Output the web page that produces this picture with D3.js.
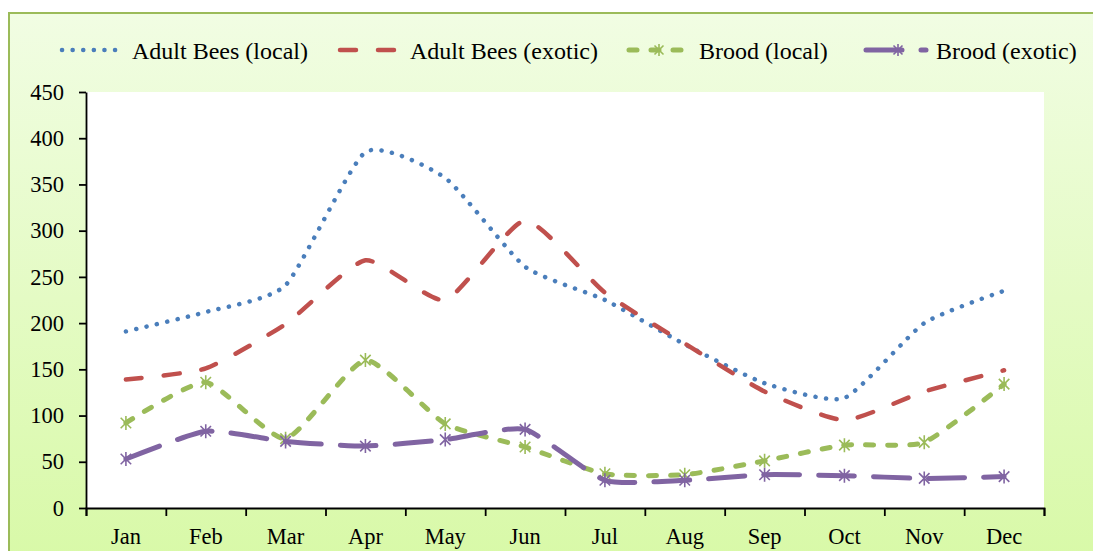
<!DOCTYPE html>
<html>
<head>
<meta charset="utf-8">
<script src="https://cdn.jsdelivr.net/npm/d3@7"></script>
<style>
  body { margin: 0; background: #fff; }
</style>
</head>
<body>
<div id="chart"></div>
<script>
// Month categories and series values
const months = ["Jan", "Feb", "Mar", "Apr", "May", "Jun", "Jul", "Aug", "Sep", "Oct", "Nov", "Dec"];
const adultLocal  = [191, 212, 241, 385, 357, 261, 225, 177, 135, 119, 200, 235];
const adultExotic = [139, 151, 199, 268, 225, 311, 233, 178, 126, 95, 126, 149];
const broodLocal  = [92, 136, 75, 160, 91, 66, 37, 36, 51, 68, 71, 134];
const broodExotic = [53, 83, 72, 67, 74, 85, 30, 30, 36, 35, 32, 34];
const yTicks = [0, 50, 100, 150, 200, 250, 300, 350, 400, 450];
const seriesNames = ["Adult Bees (local)", "Adult Bees (exotic)", "Brood (local)", "Brood (exotic)"];

const W = 1093, H = 551;
const plot = {left: 86, right: 1044, top: 92, bottom: 508};
const FONT = "'Liberation Serif', 'Times New Roman', serif";

const svg = d3.select("#chart").append("svg")
    .attr("width", W)
    .attr("height", H);

// background gradient for the chart area
const defs = svg.append("defs");
const grad = defs.append("linearGradient")
    .attr("id", "bg")
    .attr("x1", 0).attr("y1", 0).attr("x2", 0).attr("y2", 1);
grad.append("stop").attr("offset", "0%").attr("stop-color", "#f1fde3");
grad.append("stop").attr("offset", "100%").attr("stop-color", "#d7f9a5");

svg.append("rect")
    .attr("x", 9).attr("y", 13)
    .attr("width", W + 20).attr("height", H + 20)
    .attr("fill", "url(#bg)")
    .attr("stroke", "#9bbb59")
    .attr("stroke-width", 2);

// white plot area
svg.append("rect")
    .attr("x", plot.left).attr("y", plot.top)
    .attr("width", plot.right - plot.left)
    .attr("height", plot.bottom - plot.top)
    .attr("fill", "#fff");

// scales
const x = d3.scaleBand()
    .domain(months)
    .range([plot.left, plot.right]);

const y = d3.scaleLinear()
    .domain([0, 450])
    .range([plot.bottom, plot.top]);

// y axis
svg.append("g")
    .attr("transform", `translate(${plot.left},0)`)
    .call(d3.axisLeft(y).tickValues(yTicks).tickSize(7).tickPadding(15).tickSizeOuter(0));

// x axis: ticks at band boundaries, labels at band centres
const xEdges = d3.scaleLinear().domain([0, months.length]).range([plot.left, plot.right]);
svg.append("g")
    .attr("transform", `translate(0,${plot.bottom})`)
    .call(d3.axisBottom(xEdges).ticks(months.length).tickFormat("").tickSize(8).tickSizeOuter(8));

svg.append("g")
    .attr("transform", `translate(0,${plot.bottom})`)
    .call(d3.axisBottom(x).tickSize(0).tickPadding(20))
    .call(g => g.select(".domain").remove());

svg.selectAll(".tick text")
    .style("font-family", FONT)
    .style("font-size", "22.5px")
    .attr("fill", "#000");
svg.selectAll(".domain, .tick line")
    .attr("stroke", "#000")
    .attr("stroke-width", 1.8);

// series styles
const styles = [
  {values: adultLocal,  color: "#4a7ebb", width: 4.5, dash: "0.1 10.5", marker: false},
  {values: adultExotic, color: "#c0504d", width: 4.5, dash: "16 22",    marker: false},
  {values: broodLocal,  color: "#9bbb59", width: 5,   dash: "8 14",     marker: true},
  {values: broodExotic, color: "#8064a2", width: 5,   dash: "36 19",    marker: true}
];

const line = d3.line()
    .x((d, i) => x(months[i]) + x.bandwidth() / 2)
    .y(d => y(d))
    .curve(d3.curveCardinal.tension(0.45));

// star marker: vertical stroke plus an X
function starPath(cx, cy, r) {
  const k = r * 0.75;
  return `M${cx},${cy - r}L${cx},${cy + r}` +
         `M${cx - k},${cy - k}L${cx + k},${cy + k}` +
         `M${cx - k},${cy + k}L${cx + k},${cy - k}`;
}

styles.forEach(s => {
  svg.append("path")
      .datum(s.values)
      .attr("fill", "none")
      .attr("stroke", s.color)
      .attr("stroke-width", s.width)
      .attr("stroke-linecap", "round")
      .attr("stroke-linejoin", "round")
      .attr("stroke-dasharray", s.dash)
      .attr("d", line);

  if (s.marker) {
    svg.append("g").selectAll("path")
        .data(s.values)
        .enter()
        .append("path")
        .attr("d", (d, i) => starPath(x(months[i]) + x.bandwidth() / 2, y(d), 7))
        .attr("stroke", s.color)
        .attr("stroke-width", 1.6)
        .attr("fill", "none");
  }
});

// legend
const legendX = [62, 340, 629, 866];
const legendY = 50;
const legend = svg.append("g");

styles.forEach((s, i) => {
  const x0 = legendX[i];
  legend.append("line")
      .attr("x1", x0).attr("x2", x0 + 60)
      .attr("y1", legendY).attr("y2", legendY)
      .attr("stroke", s.color)
      .attr("stroke-width", s.width)
      .attr("stroke-linecap", "round")
      .attr("stroke-dasharray", s.dash);
  if (s.marker) {
    legend.append("path")
        .attr("d", starPath(x0 + (i === 3 ? 32 : 30), legendY, 6))
        .attr("stroke", s.color)
        .attr("stroke-width", 1.6)
        .attr("fill", "none");
  }
  legend.append("text")
      .attr("x", x0 + 70)
      .attr("y", legendY + 9)
      .style("font-family", FONT)
      .style("font-size", "24px")
      .attr("fill", "#000")
      .text(seriesNames[i]);
});
</script>
</body>
</html>
